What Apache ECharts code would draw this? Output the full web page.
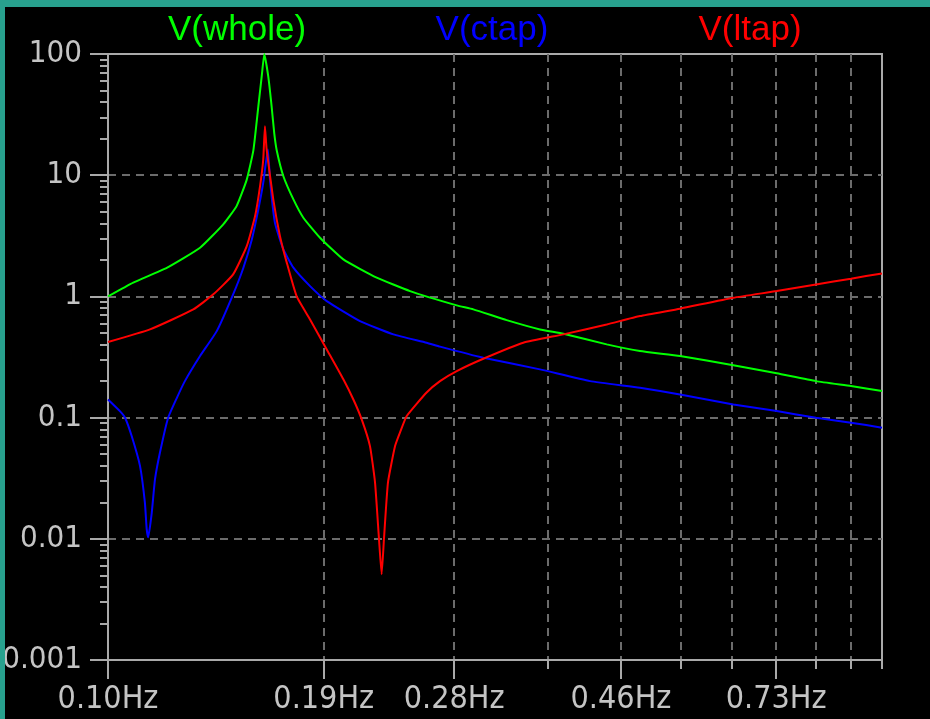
<!DOCTYPE html>
<html>
<head>
<meta charset="utf-8">
<title>V(whole) / V(ctap) / V(ltap)</title>
<script src="https://cdn.jsdelivr.net/npm/echarts@6/dist/echarts.min.js"></script>
<style>
  html, body { margin: 0; padding: 0; width: 930px; height: 719px; overflow: hidden; background: #28a18e; }
  #chart { position: absolute; left: 5px; top: 7px; width: 925px; height: 712px; background: #000; }
</style>
</head>
<body>
<div id="chart"></div>
<script>
  // frequency [Hz], magnitude [V]
  var whole = [
    [0.1, 1.0], [0.1078, 1.30], [0.1191, 1.72], [0.1315, 2.52], [0.1409, 3.93],
    [0.1466, 5.56], [0.1511, 9.2], [0.1541, 16], [0.1564, 37], [0.1580, 66],
    [0.1592, 100], [0.1611, 65], [0.1627, 37], [0.1640, 22], [0.1652, 16],
    [0.1685, 9.8], [0.1736, 6.31], [0.1788, 4.46], [0.1879, 3.05], [0.2014, 2.02],
    [0.2224, 1.43], [0.2456, 1.106], [0.2822, 0.843], [0.2965, 0.781], [0.3274, 0.637],
    [0.3615, 0.534], [0.3876, 0.492], [0.4409, 0.402], [0.4868, 0.354], [0.5483, 0.322],
    [0.6426, 0.270], [0.7311, 0.232], [0.8218, 0.200], [0.9118, 0.182], [1.0, 0.166]
  ];
  var ctap = [
    [0.1, 0.141], [0.1036, 0.113], [0.1052, 0.0998], [0.1073, 0.0704], [0.1100, 0.0398],
    [0.1116, 0.0199], [0.1122, 0.0120], [0.1127, 0.0103], [0.1139, 0.0164], [0.1150, 0.0309],
    [0.1167, 0.0513], [0.1196, 0.0998], [0.1227, 0.145], [0.1257, 0.200], [0.1315, 0.322],
    [0.1382, 0.517], [0.1451, 1.04], [0.1496, 1.725], [0.1534, 2.95], [0.1564, 5.22],
    [0.1587, 8.67], [0.1609, 16.3], [0.1619, 9.23], [0.1643, 4.06], [0.1685, 2.44],
    [0.1736, 1.725], [0.1824, 1.216], [0.1917, 0.915], [0.2116, 0.626], [0.2337, 0.486],
    [0.2580, 0.415], [0.2685, 0.385], [0.3054, 0.312], [0.3615, 0.250], [0.4195, 0.200],
    [0.4868, 0.1765], [0.5483, 0.1554], [0.6426, 0.1285], [0.7311, 0.1132], [0.8218, 0.0998],
    [0.9118, 0.0908], [1.0, 0.0826]
  ];
  var ltap = [
    [0.1, 0.42], [0.1133, 0.534], [0.1289, 0.781], [0.1368, 1.04], [0.1451, 1.52],
    [0.1511, 2.60], [0.1549, 4.60], [0.1572, 8.13], [0.1587, 13.5], [0.1595, 25.3],
    [0.1603, 16.3], [0.1635, 6.31], [0.1668, 3.14], [0.1702, 1.90], [0.1753, 1.0],
    [0.1824, 0.646], [0.1917, 0.365], [0.2014, 0.207], [0.2075, 0.141], [0.2127, 0.0966],
    [0.2180, 0.0582], [0.2213, 0.0292], [0.2239, 0.0101], [0.2257, 0.0051], [0.2273, 0.0101],
    [0.2300, 0.0292], [0.2349, 0.0582], [0.2384, 0.0755], [0.2432, 0.103], [0.2580, 0.161],
    [0.2685, 0.20], [0.2822, 0.242], [0.3054, 0.306], [0.3440, 0.415], [0.3876, 0.486],
    [0.4409, 0.587], [0.4868, 0.688], [0.5483, 0.792], [0.6426, 0.975], [0.7311, 1.106],
    [0.8218, 1.256], [0.9118, 1.40], [1.0, 1.548]
  ];

  var xLabelValues = [0.1, 0.19, 0.28, 0.46, 0.73];
  var xLabelTexts = ['0.10Hz', '0.19Hz', '0.28Hz', '0.46Hz', '0.73Hz'];
  var xGridValues = [0.1, 0.19, 0.28, 0.37, 0.46, 0.55, 0.64, 0.73, 0.82, 0.91, 1.0];
  var yTicks = [0.001, 0.01, 0.1, 1, 10, 100];
  var yTickLabels = ['0.001', '0.01', '0.1', '1', '10', '100'];
  var yMinorTicks = [
    0.002, 0.003, 0.004, 0.005, 0.006, 0.007, 0.008, 0.009,
    0.02, 0.03, 0.04, 0.05, 0.06, 0.07, 0.08, 0.09,
    0.2, 0.3, 0.4, 0.5, 0.6, 0.7, 0.8, 0.9,
    2, 3, 4, 5, 6, 7, 8, 9,
    20, 30, 40, 50, 60, 70, 80, 90
  ];
  var seriesNames = ['V(whole)', 'V(ctap)', 'V(ltap)'];
  var seriesColors = ['#00ff00', '#0000ff', '#ff0000'];

  var axisGray = '#a9a9a9';
  var labelGray = '#c4c4c4';
  var gridGray = '#6c6c6c';
  var tickFont = "'DejaVu Sans Condensed', 'Liberation Sans Narrow', 'Liberation Sans', sans-serif";
  var titleFont = "'Liberation Sans', Arial, sans-serif";

  function pick(values, texts, v) {
    for (var i = 0; i < values.length; i++) {
      if (Math.abs(Math.log10(values[i]) - Math.log10(v)) < 1e-6) return texts[i];
    }
    return '';
  }

  function lineSeries(i, data) {
    return {
      name: seriesNames[i], type: 'line', data: data,
      showSymbol: false, smooth: 0.15,
      lineStyle: { color: seriesColors[i], width: 2 },
      itemStyle: { color: seriesColors[i] }
    };
  }

  function label(i, x) {
    return {
      type: 'text', x: x, y: 23,
      style: {
        text: seriesNames[i], fill: seriesColors[i], fontSize: 35,
        fontFamily: titleFont, align: 'center', verticalAlign: 'middle'
      }
    };
  }

  var chart = echarts.init(document.getElementById('chart'));

  var option = {
    backgroundColor: '#000',
    animation: false,
    grid: {
      left: 103, right: 48, top: 47, bottom: 59,
      containLabel: false, outerBoundsMode: 'none',
      show: true, borderColor: axisGray, borderWidth: 2, backgroundColor: 'transparent'
    },
    xAxis: [
      {
        type: 'log', logBase: 10, min: 0.1, max: 1, position: 'bottom',
        axisLine: { show: true, lineStyle: { color: axisGray, width: 2 } },
        axisTick: { show: true, customValues: xLabelValues, length: 19, lineStyle: { color: axisGray, width: 2 } },
        axisLabel: {
          customValues: xLabelValues,
          formatter: function (v) { return pick(xLabelValues, xLabelTexts, v); },
          color: labelGray, fontSize: 32, fontFamily: tickFont, margin: 24
        },
        splitLine: { show: false },
        minorTick: { show: false }
      },
      {
        type: 'log', logBase: 10, min: 0.1, max: 1, position: 'bottom',
        axisLine: { show: false },
        axisTick: { show: true, customValues: xGridValues, length: 9, lineStyle: { color: axisGray, width: 2 } },
        axisLabel: { show: false },
        splitLine: {
          show: true, showMinLine: false, showMaxLine: false,
          lineStyle: { color: gridGray, width: 2, type: [8, 6] }
        }
      }
    ],
    yAxis: [
      {
        type: 'log', logBase: 10, min: 0.001, max: 100, position: 'left',
        axisLine: { show: true, lineStyle: { color: axisGray, width: 2 } },
        axisTick: { show: true, customValues: yTicks, length: 18, lineStyle: { color: axisGray, width: 2 } },
        axisLabel: {
          customValues: yTicks,
          formatter: function (v) { return pick(yTicks, yTickLabels, v); },
          color: labelGray, fontSize: 31, fontFamily: tickFont, margin: 26
        },
        splitLine: {
          show: true, showMinLine: false, showMaxLine: false,
          lineStyle: { color: gridGray, width: 2, type: [8, 6] }
        }
      },
      {
        type: 'log', logBase: 10, min: 0.001, max: 100, position: 'left',
        axisLine: { show: false },
        axisTick: { show: true, customValues: yMinorTicks, length: 8, lineStyle: { color: axisGray, width: 2 } },
        axisLabel: { show: false },
        splitLine: { show: false }
      }
    ],
    graphic: [label(0, 232), label(1, 487), label(2, 745)],
    series: [lineSeries(0, whole), lineSeries(1, ctap), lineSeries(2, ltap)]
  };

  chart.setOption(option);
</script>
</body>
</html>
